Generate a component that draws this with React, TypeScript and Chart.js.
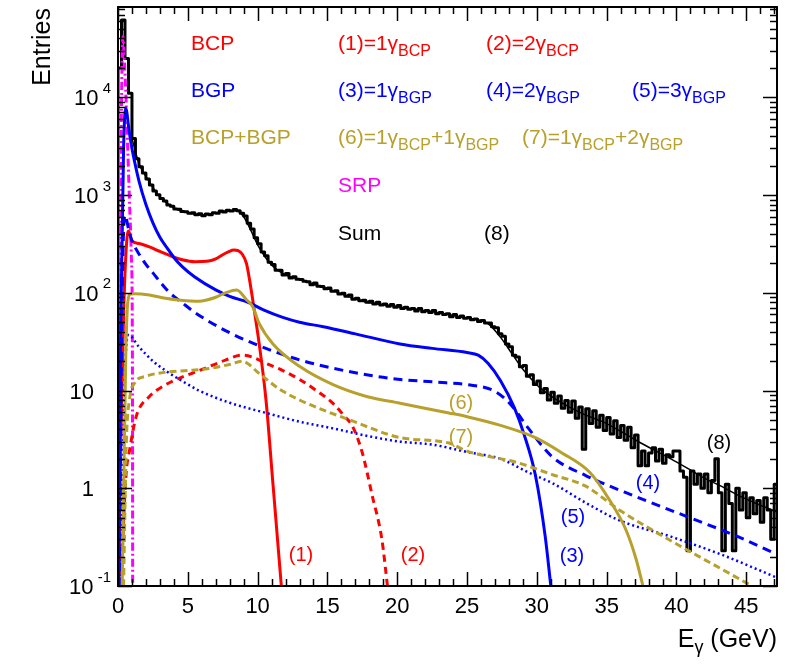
import React, { useEffect, useRef } from "react";
import { Chart, registerables } from "chart.js";

Chart.register(...registerables);

// ---------------- axis ranges & ticks ----------------
const X_MIN = 0;
const X_MAX = 47.2;
const Y_MIN = 0.1;
const Y_MAX = 84000;
const xMajorTicks = [0, 5, 10, 15, 20, 25, 30, 35, 40, 45];
const yDecadeExponents = [-1, 0, 1, 2, 3, 4];
const yTickBase = ["10", "1", "10", "10", "10", "10"];
const yTickSup = ["-1", "", "", "2", "3", "4"];

// ---------------- histogram (Sum, black) ----------------
const HIST_START = 0;
const HIST_BIN_WIDTH = 0.25;
const sumHist = [
  20000, 62000, 25000, 11000, 3800, 2350, 1950, 1680, 1460, 1270,
  1100, 1010, 920, 870, 790, 770, 720, 715, 680, 675,
  650, 660, 630, 645, 615, 640, 630, 660, 650, 685,
  670, 700, 685, 710, 690, 650, 610, 515, 450, 365,
  318, 262, 240, 205, 195, 170, 170, 152, 158, 142,
  146, 138, 137, 131, 130, 121, 126, 117, 116, 110,
  112, 104, 105, 97, 99, 92, 95, 86, 88, 83,
  84, 80, 82, 77, 80, 75, 77, 73, 76, 71,
  74, 69, 71, 68, 69, 65, 69, 64, 66, 63,
  66, 61, 63, 60, 61, 57, 60, 56, 58, 55,
  56, 53, 54, 51, 52, 49, 49, 45, 44, 38,
  36, 30, 28, 23, 22, 17.5, 18, 14, 14.5, 11.5,
  12.5, 9.5, 10.5, 8.0, 9.6, 7.4, 8.8, 6.6, 7.9, 6.0,
  7.8, 5.2, 6.8, 2.5, 6.5, 4.6, 6.2, 4.2, 5.6, 3.9,
  5.3, 3.6, 4.9, 3.3, 4.4, 3.1, 4.2, 2.6, 3.5, 1.7,
  2.4, 1.7, 2.3, 2.6, 1.9, 2.5, 1.8, 2.2, 2.1, 2.4,
  2.4, 1.5, 1.3, 0.23, 1.5, 1.1, 1.4, 1.0, 1.4, 0.9,
  1.2, 2.0, 0.9, 0.23, 1.1, 0.7, 0.23, 1.0, 0.6, 0.9,
  0.5, 0.8, 0.55, 0.75, 0.45, 0.8, 0.6, 0.3, 1.1,
];

// ---------------- smooth sum (8) ----------------
const sumE = [1, 1.5, 2, 3, 4, 5, 6, 7, 8, 8.5, 9, 9.5, 10, 11, 12, 13, 15, 17.5, 20, 22.5, 25, 26.5, 27.4, 28.2, 29, 30, 31, 32.3, 33.5, 34.7, 35.9, 37.1, 38.3, 39.6, 40.8, 42, 43.2, 44.4, 45.6, 47.2];
const sumY = [3800, 2100, 1550, 960, 740, 660, 625, 655, 690, 690, 600, 440, 310, 192, 152, 137, 110, 82, 72, 64, 55, 48.5, 35, 24, 16.5, 11.4, 8.8, 6.8, 5.6, 4.8, 3.9, 3.1, 2.5, 2.0, 1.6, 1.27, 1.05, 0.85, 0.71, 0.57];

// ---------------- BCP ----------------
const bcp1E = [0.05, 0.2, 0.4, 0.6, 0.75, 1.0, 1.5, 2.25, 3.0, 4.0, 4.6, 5.5, 6.5, 7.0, 7.5, 7.9, 8.3, 8.6, 8.9, 9.2, 9.5, 9.8, 10.1, 10.6, 11.1, 11.7];
const bcp1Y = [0.1, 3, 60, 300, 430, 340, 320, 295, 265, 232, 218, 208, 211, 222, 245, 262, 274, 270, 248, 200, 116, 61, 31, 8, 1.1, 0.1];
const bcp2E = [0.2, 0.58, 0.82, 1.3, 2.25, 3.2, 4.2, 5.3, 6.5, 7.7, 8.9, 9.6, 10.6, 11.8, 13, 14.2, 15.4, 16.2, 16.8, 17.5, 18.2, 18.9, 19.3];
const bcp2Y = [0.1, 1.4, 2.4, 5.4, 8.7, 11, 13, 15, 17.5, 20.5, 23, 22, 19, 16, 13, 10, 7.4, 5.5, 4.3, 2.3, 0.85, 0.3, 0.1];

// ---------------- BGP ----------------
const bgp1E = [0.05, 0.2, 0.4, 0.55, 0.8, 1.0, 1.25, 1.5, 2.0, 2.5, 3.0, 3.5, 4.0, 4.6, 5.5, 7.0, 8.0, 9.4, 10.5, 11.8, 13, 14.7, 17, 20.2, 22.5, 25, 25.8, 26.5, 27.4, 28.4, 29.1, 29.9, 30.6, 31.0];
const bgp1Y = [0.1, 50, 3000, 7800, 4500, 3000, 2000, 1400, 800, 520, 370, 290, 230, 185, 145, 107, 92, 79, 66, 56, 50, 45, 38, 30, 27, 24.5, 23, 19, 12.6, 6.6, 3.5, 1.35, 0.32, 0.1];
const bgp2E = [0.1, 0.3, 0.5, 0.8, 1.0, 1.5, 2.0, 2.5, 3.0, 3.7, 4.6, 5.5, 7.3, 9.4, 13, 17.8, 20.2, 23.5, 25, 27, 28.2, 29.4, 31.1, 33.5, 37.1, 40.8, 44.4, 47.2];
const bgp2Y = [0.1, 100, 620, 420, 340, 250, 195, 160, 130, 100, 79, 63, 44, 31.6, 20.6, 14.5, 13, 12, 11.5, 9.8, 7, 4.1, 2.1, 1.35, 0.82, 0.51, 0.32, 0.21];
const bgp3E = [0.2, 0.5, 0.75, 1.5, 2.5, 3.4, 4.6, 5.8, 8, 10.6, 13, 15.4, 18, 20.2, 22.5, 25, 27.4, 29.4, 31.1, 33.5, 35.9, 39.6, 43.2, 47.3];
const bgp3Y = [0.1, 15, 37, 28, 20, 16, 12.5, 10, 7.5, 5.9, 4.8, 4.1, 3.4, 3.0, 2.8, 2.35, 2.0, 1.45, 1.13, 0.71, 0.47, 0.32, 0.21, 0.12];

// ---------------- BCP+BGP ----------------
const mix1E = [0.3, 0.55, 0.7, 0.9, 1.2, 2.25, 3.4, 4.5, 5.8, 7.0, 7.7, 8.5, 9.2, 9.65, 10.1, 11.1, 13, 15.4, 17.8, 20.2, 23.7, 25, 27.4, 29.9, 31.8, 33.8, 35.2, 36.4, 37.1, 37.6];
const mix1Y = [0.1, 20, 80, 97, 98, 95, 88, 84, 82, 90, 100, 107, 85, 72, 49, 30, 17.7, 11.5, 8.7, 7.4, 5.9, 5.4, 4.4, 3.3, 2.3, 1.45, 0.76, 0.37, 0.19, 0.1];
const mix2E = [0.4, 0.6, 0.82, 1.2, 2.0, 3.4, 5.0, 6.5, 8.0, 8.9, 10.1, 11.5, 13, 16.6, 20.2, 23.7, 25, 28.6, 31.1, 33.5, 35.9, 39.6, 43.2, 45.4];
const mix2Y = [0.1, 3, 8, 12, 14, 15.4, 16, 16.8, 18.5, 19.9, 15, 10.5, 8, 5, 3.3, 2.9, 2.4, 1.83, 1.38, 1.05, 0.6, 0.29, 0.15, 0.1];

// ---------------- SRP ----------------
const srpE = [0.05, 0.15, 0.25, 0.35, 0.45, 0.58, 0.7, 0.82, 0.95, 1.02, 1.04, 1.05];
const srpY = [0.1, 100, 8000, 42000, 25000, 9400, 2900, 890, 250, 60, 5, 0.1];

// ---------------- colours / fonts ----------------
const RED = "#ff0000";
const BLUE = "#0000ff";
const OLIVE = "#b8a02c";
const MAGENTA = "#ff00ff";
const BLACK = "#000000";
const FONT = '"Liberation Sans", Arial, Helvetica, sans-serif';

type Part = { t: string; s?: "sub" | "sup" };

function drawRich(
  ctx: CanvasRenderingContext2D,
  x: number,
  y: number,
  parts: Part[],
  color: string,
  size: number,
  align: "left" | "right" | "center" = "left",
  subRatio = 0.76
) {
  const fontFor = (p: Part) => `${p.s ? Math.round(size * subRatio) : size}px ${FONT}`;
  let w = 0;
  for (const p of parts) {
    ctx.font = fontFor(p);
    w += ctx.measureText(p.t).width;
  }
  let cx = align === "left" ? x : align === "right" ? x - w : x - w / 2;
  ctx.fillStyle = color;
  ctx.textAlign = "left";
  ctx.textBaseline = "middle";
  for (const p of parts) {
    ctx.font = fontFor(p);
    const dy = p.s === "sub" ? size * 0.34 : p.s === "sup" ? -size * 0.48 : 0;
    ctx.fillText(p.t, cx, y + dy);
    cx += ctx.measureText(p.t).width;
  }
}

const g = "\u03b3";
const legendTexts: { x: number; y: number; parts: Part[]; color: string }[] = [
  { x: 191, y: 44, parts: [{ t: "BCP" }], color: RED },
  { x: 338, y: 44, parts: [{ t: `(1)=1${g}` }, { t: "BCP", s: "sub" }], color: RED },
  { x: 486, y: 44, parts: [{ t: `(2)=2${g}` }, { t: "BCP", s: "sub" }], color: RED },
  { x: 191, y: 91, parts: [{ t: "BGP" }], color: BLUE },
  { x: 338, y: 91, parts: [{ t: `(3)=1${g}` }, { t: "BGP", s: "sub" }], color: BLUE },
  { x: 486, y: 91, parts: [{ t: `(4)=2${g}` }, { t: "BGP", s: "sub" }], color: BLUE },
  { x: 632, y: 91, parts: [{ t: `(5)=3${g}` }, { t: "BGP", s: "sub" }], color: BLUE },
  { x: 191, y: 138, parts: [{ t: "BCP+BGP" }], color: OLIVE },
  { x: 338, y: 138, parts: [{ t: `(6)=1${g}` }, { t: "BCP", s: "sub" }, { t: `+1${g}` }, { t: "BGP", s: "sub" }], color: OLIVE },
  { x: 522, y: 138, parts: [{ t: `(7)=1${g}` }, { t: "BCP", s: "sub" }, { t: `+2${g}` }, { t: "BGP", s: "sub" }], color: OLIVE },
  { x: 338, y: 186, parts: [{ t: "SRP" }], color: MAGENTA },
  { x: 338, y: 234, parts: [{ t: "Sum" }], color: BLACK },
  { x: 484, y: 234, parts: [{ t: "(8)" }], color: BLACK },
];
const curveLabels: { x: number; y: number; t: string; color: string }[] = [
  { x: 301, y: 555, t: "(1)", color: RED },
  { x: 413, y: 555, t: "(2)", color: RED },
  { x: 572, y: 556, t: "(3)", color: BLUE },
  { x: 648, y: 483, t: "(4)", color: BLUE },
  { x: 573, y: 517, t: "(5)", color: BLUE },
  { x: 461, y: 403, t: "(6)", color: OLIVE },
  { x: 461, y: 437, t: "(7)", color: OLIVE },
  { x: 719, y: 443, t: "(8)", color: BLACK },
];

function pts(es: number[], ys: number[]) {
  return es.map((e, i) => ({ x: e, y: ys[i] }));
}

function histPoints() {
  const out: { x: number; y: number }[] = [{ x: HIST_START, y: 0.01 }];
  sumHist.forEach((v, i) => {
    const lo = HIST_START + i * HIST_BIN_WIDTH;
    out.push({ x: lo, y: v });
    out.push({ x: lo + HIST_BIN_WIDTH, y: v });
  });
  return out;
}

const framePlugin = {
  id: "rootFrame",
  afterDatasetsDraw(chart: any) {
    const { ctx, chartArea: a, scales } = chart;
    const xs = scales.x;
    const ys = scales.y;
    ctx.save();
    ctx.strokeStyle = "#000";
    // ticks
    ctx.lineWidth = 1.5;
    const line = (x1: number, y1: number, x2: number, y2: number) => {
      ctx.beginPath();
      ctx.moveTo(x1, y1);
      ctx.lineTo(x2, y2);
      ctx.stroke();
    };
    for (let v = Math.ceil(X_MIN); v <= X_MAX; v += 1) {
      const px = Math.round(xs.getPixelForValue(v)) + 0.5;
      const len = v % 5 === 0 ? 14 : 7;
      line(px, a.bottom, px, a.bottom - len);
      line(px, a.top, px, a.top + len);
    }
    for (const d of yDecadeExponents) {
      for (let k = 1; k <= 9; k++) {
        const v = k * Math.pow(10, d);
        if (v < Y_MIN || v > Y_MAX) continue;
        const py = Math.round(ys.getPixelForValue(v)) + 0.5;
        const len = k === 1 ? 14 : 7;
        line(a.left, py, a.left + len, py);
        line(a.right, py, a.right - len, py);
      }
    }
    // frame
    ctx.lineWidth = 2;
    ctx.strokeRect(a.left, a.top, a.right - a.left, a.bottom - a.top);

    // x tick labels
    ctx.fillStyle = "#000";
    ctx.font = `22px ${FONT}`;
    ctx.textAlign = "center";
    ctx.textBaseline = "middle";
    for (const v of xMajorTicks) {
      ctx.fillText(String(v), xs.getPixelForValue(v), a.bottom + 21);
    }
    // y tick labels
    yDecadeExponents.forEach((d, i) => {
      const py = ys.getPixelForValue(Math.pow(10, d)) + 2;
      const base = yTickBase[i];
      const sup = yTickSup[i];
      if (sup) {
        drawRich(ctx, a.left - 7, py, [{ t: base }, { t: " " + sup, s: "sup" }], "#000", 22, "right", 0.7);
      } else {
        ctx.font = `22px ${FONT}`;
        ctx.textAlign = "right";
        ctx.textBaseline = "middle";
        ctx.fillStyle = "#000";
        ctx.fillText(base, a.left - 24, py);
      }
    });

    // axis titles
    ctx.save();
    ctx.translate(43, a.top + 1);
    ctx.rotate(-Math.PI / 2);
    ctx.font = `25px ${FONT}`;
    ctx.textAlign = "right";
    ctx.textBaseline = "middle";
    ctx.fillStyle = "#000";
    ctx.fillText("Entries", 0, 0);
    ctx.restore();
    drawRich(ctx, a.right, 640, [{ t: "E" }, { t: g, s: "sub" }, { t: " (GeV)" }], "#000", 25, "right", 0.72);

    // legend texts
    for (const l of legendTexts) drawRich(ctx, l.x, l.y, l.parts, l.color, 21, "left");
    for (const c of curveLabels) drawRich(ctx, c.x, c.y, [{ t: c.t }], c.color, 20, "center");
    ctx.restore();
  },
};

export default function App() {
  const ref = useRef<HTMLCanvasElement | null>(null);
  useEffect(() => {
    if (!ref.current) return;
    const smooth = { tension: 0.4, cubicInterpolationMode: "monotone" as const, pointRadius: 0, fill: false };
    const chart = new Chart(ref.current, {
      type: "line",
      data: {
        datasets: [
          { label: "Sum hist", data: histPoints(), borderColor: BLACK, borderWidth: 3, pointRadius: 0, tension: 0, order: 10 },
          { label: "SRP", data: pts(srpE, srpY), borderColor: MAGENTA, borderWidth: 3, borderDash: [8, 3, 2, 3], ...smooth, order: 5 },
          { label: "(1)", data: pts(bcp1E, bcp1Y), borderColor: RED, borderWidth: 3, ...smooth, order: 4 },
          { label: "(2)", data: pts(bcp2E, bcp2Y), borderColor: RED, borderWidth: 3, borderDash: [7, 5], ...smooth, order: 4 },
          { label: "(3)", data: pts(bgp1E, bgp1Y), borderColor: BLUE, borderWidth: 3, ...smooth, order: 3 },
          { label: "(4)", data: pts(bgp2E, bgp2Y), borderColor: BLUE, borderWidth: 3, borderDash: [9, 6], ...smooth, order: 3 },
          { label: "(5)", data: pts(bgp3E, bgp3Y), borderColor: BLUE, borderWidth: 2.5, borderDash: [2, 3], ...smooth, order: 3 },
          { label: "(6)", data: pts(mix1E, mix1Y), borderColor: OLIVE, borderWidth: 3, ...smooth, order: 2 },
          { label: "(7)", data: pts(mix2E, mix2Y), borderColor: OLIVE, borderWidth: 3, borderDash: [7, 4], ...smooth, order: 2 },
          { label: "(8)", data: pts(sumE, sumY), borderColor: BLACK, borderWidth: 1.5, ...smooth, order: 1 },
        ] as any,
      },
      options: {
        responsive: false,
        maintainAspectRatio: false,
        animation: false,
        events: [],
        layout: { padding: { left: 118, top: 7, right: 13, bottom: 78 } },
        plugins: { legend: { display: false }, tooltip: { enabled: false }, title: { display: false } },
        elements: { point: { radius: 0 }, line: { borderCapStyle: "butt", borderJoinStyle: "round" } },
        scales: {
          x: { type: "linear", min: X_MIN, max: X_MAX, display: false },
          y: { type: "logarithmic", min: Y_MIN, max: Y_MAX, display: false },
        },
      } as any,
      plugins: [framePlugin],
    });
    return () => chart.destroy();
  }, []);
  return (
    <div style={{ position: "absolute", left: 0, top: 0, width: 790, height: 664, background: "#fff" }}>
      <canvas ref={ref} width={790} height={664} style={{ width: 790, height: 664, display: "block" }} />
    </div>
  );
}
